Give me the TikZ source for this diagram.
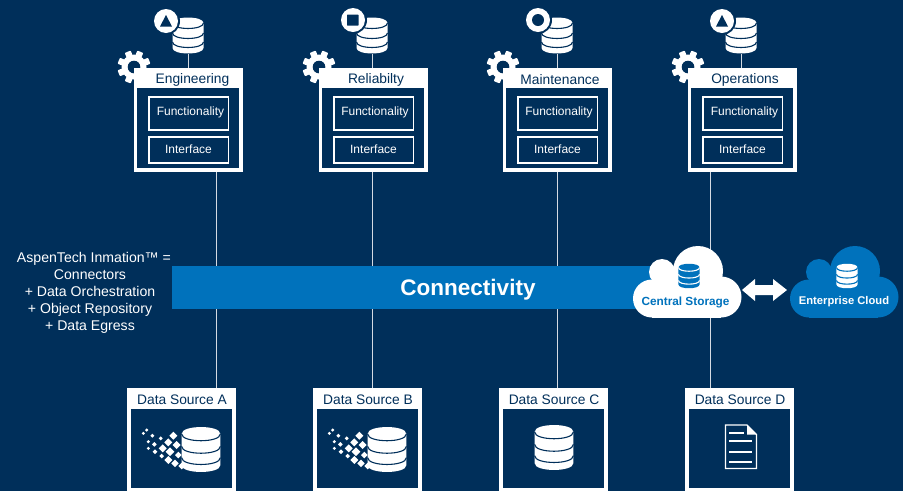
\documentclass[tikz,border=0pt]{standalone}
\usepackage{fontspec}
\setmainfont{Liberation Sans}
\definecolor{navy}{HTML}{002F5A}
\definecolor{azure}{HTML}{0072BC}
\definecolor{wire}{HTML}{D5DBE3}
\tikzset{
  outerbox/.style={fill=white,inner sep=0,minimum width=109,minimum height=#1,anchor=north west},
  funcbox/.style={fill=navy,draw=white,line width=1.7,inner sep=0,anchor=north west,text=white},
  titletext/.style={text=navy,inner sep=0,font=\fontsize{13.8}{16}\selectfont},
  smalltext/.style={text=white,inner sep=0,font=\fontsize{12}{14}\selectfont},
  wireline/.style={draw=wire,line width=1},
}
% database icon: x, y, scale, body colour, seam colour
\newcommand{\dbseam}[2]{\draw[#1,line width=1.1] (-15.5,#2) .. controls (-15.5,#2+7.3) and (15.5,#2+7.3) .. (15.5,#2);}
\newcommand{\dbicon}[5]{%
  \begin{scope}[shift={(#1,#2)},scale=#3]
    \fill[#4] (-15.5,-12.5) .. controls (-15.5,-19.8) and (15.5,-19.8) .. (15.5,-12.5)
      -- (15.5,12.5) .. controls (15.5,19.8) and (-15.5,19.8) .. (-15.5,12.5) -- cycle;
    \dbseam{#5}{-12.5}
    \dbseam{#5}{-2.5}
    \dbseam{#5}{6.5}
  \end{scope}}
\newcommand{\gearicon}[2]{%
  \begin{scope}[shift={(#1,#2)}]
    \fill[white] (0,0) circle[radius=12.5];
    \foreach \a in {0,45,...,315}{
      \fill[white,rotate=\a+22.5,rounded corners=0.8] (-3.2,-10) rectangle (3.2,-16.5);
    }
    \fill[navy] (0,0) circle[radius=6.3];
  \end{scope}}
\newcommand{\badgebase}[2]{%
  \fill[navy] (#1,#2) circle[radius=14];
  \fill[white] (#1,#2) circle[radius=12];}
% column top: name, left x, title, title x, func-text x, db x
\newcommand{\topcol}[6]{%
  \gearicon{#2}{67}
  \node[outerbox=104] (#1) at (#2,68) {};
  \fill[navy] (#2+3,88) rectangle (#2+105,168);
  \node[titletext] (#1t) at (#4,80) {#3};
  \node[funcbox,minimum width=79.5,minimum height=33] (#1f) at (#2+14.2,96) {};
  \node[smalltext] (#1fl) at (#5,112.7) {Functionality};
  \node[funcbox,minimum width=79.5,minimum height=26] (#1i) at (#2+14.2,136) {};
  \node[smalltext] (#1il) at (#2+54.5,149.2) {Interface};
  \dbicon{#6}{35.5}{1}{white}{navy}
  \node[inner sep=0,minimum width=31,minimum height=37] (#1db) at (#6,35.5) {};
  \draw[wireline] (#1db.south) -- (#1.north -| #1db.south);
}
\newcommand{\srcbox}[3]{%
  \node[outerbox=110] (#1) at (#2,388) {};
  \fill[navy] (#2+4,409) rectangle (#2+105,488);
  \node[titletext] (#1t) at (#2+55,399.5) {#3};
}
\newcommand{\pixeldb}[1]{%
  \dbicon{#1+74}{449.5}{1.25}{white}{navy}
  \begin{scope}[shift={(#1-7,380)},scale=1/3]
    \foreach \px/\py/\pr in {80/150/5,70/160/5,97/167/6,122/175/6,85/185/5,103/193/7,85/205/5,160/167/12,145/187/12,170/195/12,128/205/12,105/215/7,150/215/13,125/228/7,175/225/10,145/240/12,165/250/11,185/258/10}{
      \fill[white] (\px-\pr,\py) -- (\px,\py-\pr) -- (\px+\pr,\py) -- (\px,\py+\pr) -- cycle;
    }
  \end{scope}}
\newcommand{\cloudshape}[2]{%
  \begin{scope}[shift={(#1,0)}]
    \fill[#2] (662,272) circle[radius=13];
    \fill[#2] (698,271) circle[radius=25];
    \fill[#2] (652,298.5) circle[radius=19];
    \fill[#2] (721,297) circle[radius=20.5];
    \fill[#2] (652,284) rectangle (721,317.5);
    \fill[#2] (662,272) rectangle (700,290);
  \end{scope}}
\begin{document}
\begin{tikzpicture}[x=1pt,y=-1pt]
\useasboundingbox (0,0) rectangle (903,491);
\fill[navy] (0,0) rectangle (903,491);

\srcbox{srcA}{127}{Data Source A}
\srcbox{srcB}{313}{Data Source B}
\srcbox{srcC}{499}{Data Source C}
\srcbox{srcD}{685}{Data Source D}

\topcol{eng}{134}{Engineering}{192.5}{190.5}{188}
\topcol{rel}{319}{Reliabilty}{376}{375}{372}
\topcol{mai}{503}{Maintenance}{560}{559}{557}
\topcol{ope}{688}{Operations}{745}{744.5}{741}

% badges
\badgebase{166}{21}
\fill[navy] (160,26.5) -- (166,15) -- (172,26.5) -- cycle;
\badgebase{353}{20}
\fill[navy,rounded corners=0.5] (347,14.5) rectangle (358.5,25.5);
\badgebase{538}{20}
\fill[navy] (538,20) circle[radius=6];
\badgebase{722}{21}
\fill[navy] (716,26.5) -- (722,15) -- (728,26.5) -- cycle;

% vertical connectors
\coordinate (t1) at (216.5,0);
\coordinate (t2) at (372.5,0);
\coordinate (t3) at (557.5,0);
\coordinate (t4) at (710.5,0);
\draw[wireline] (t1 |- eng.south) -- (t1 |- srcA.north);
\draw[wireline] (t2 |- rel.south) -- (t2 |- srcB.north);
\draw[wireline] (t3 |- mai.south) -- (t3 |- srcC.north);
\draw[wireline] (t4 |- ope.south) -- (t4 |- srcD.north);

% connectivity bar
\node[fill=azure,inner sep=0,minimum width=488,minimum height=43,anchor=north west] (bar) at (172,266) {};
\node[text=white,inner sep=0,font=\fontsize{22.5}{26}\selectfont\bfseries] (barlabel) at (468,290) {Connectivity};

% left note
\node[text=white,inner sep=0,align=center,font=\fontsize{14.1}{17}\selectfont] (note) at (90,292.5) {\hspace*{8pt}AspenTech Inmation™ =\\Connectors\\+ Data Orchestration\\+ Object Repository\\+ Data Egress};

% clouds
\cloudshape{0}{white}
\cloudshape{157}{azure}
\dbicon{689}{276}{0.68}{azure}{white}
\dbicon{847}{276}{0.68}{white}{azure}
\node[text=azure,inner sep=0,font=\fontsize{11.8}{14}\selectfont\bfseries] (cs) at (685.5,302) {Central Storage};
\node[text=white,inner sep=0,font=\fontsize{11.2}{14}\selectfont\bfseries] (ec) at (844,302) {Enterprise Cloud};
\fill[white] (742,290) -- (755,279) -- (755,285) -- (773,285) -- (773,279) -- (787,290) -- (773,301) -- (773,295) -- (755,295) -- (755,301) -- cycle;

% source icons
\pixeldb{127}
\pixeldb{313}
\dbicon{554}{447.5}{1.25}{white}{navy}
% document
\draw[white,fill=navy,line width=1.2] (725.5,425) -- (747,425) -- (756.5,434.5) -- (756.5,468.5) -- (725.5,468.5) -- cycle;
\fill[white] (747,425) -- (756.5,434.5) -- (747,434.5) -- cycle;
\draw[white,line width=1.2] (729,433) -- (744,433);
\draw[white,line width=1.2] (729,441) -- (752,441);
\draw[white,line width=1.2] (729,452) -- (752,452);
\draw[white,line width=1.2] (729,462) -- (752,462);
\end{tikzpicture}
\end{document}
